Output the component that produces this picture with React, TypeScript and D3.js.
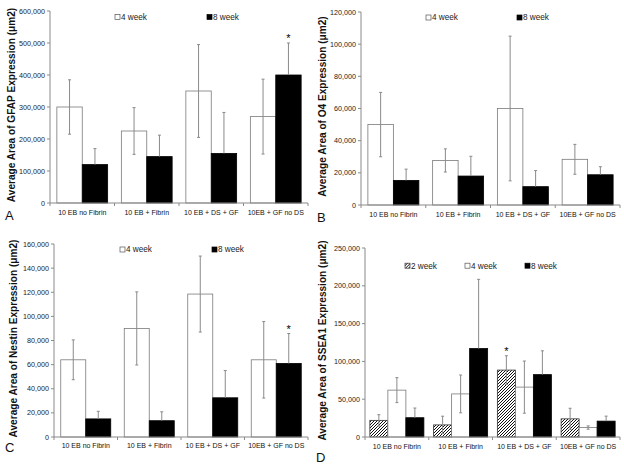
import React from 'react';
import * as d3 from 'd3';

const categories = ['10 EB no Fibrin', '10 EB + Fibrin', '10 EB + DS + GF', '10EB + GF no DS'];

// Panel A: GFAP
const gfap4wk = [300000, 225000, 350000, 270000];
const gfap4wkErr = [85000, 73000, 145000, 117000];
const gfap8wk = [120000, 145000, 155000, 400000];
const gfap8wkErr = [50000, 67000, 128000, 100000];

// Panel B: O4
const o4w4 = [50000, 27700, 60000, 28400];
const o4w4Err = [20000, 7200, 45000, 9300];
const o4w8 = [15300, 18000, 11400, 18800];
const o4w8Err = [7000, 12300, 10000, 5000];

// Panel C: Nestin
const nestin4wk = [64000, 90000, 118500, 64000];
const nestin4wkErr = [16500, 30300, 31500, 31700];
const nestin8wk = [15000, 13500, 32500, 61000];
const nestin8wkErr = [6300, 7400, 22600, 24800];

// Panel D: SSEA1
const ssea2wk = [22000, 16000, 88500, 24000];
const ssea2wkErr = [7500, 11500, 19000, 14000];
const ssea4wk = [62000, 57000, 66000, 12500];
const ssea4wkErr = [16500, 25000, 34500, 2200];
const ssea8wk = [25500, 117000, 82500, 21000];
const ssea8wkErr = [12800, 91500, 31500, 6600];

const FONT = '"Liberation Sans", Arial, sans-serif';
const GREY = '#8a8a8a';

type Kind = 'hatch' | 'white' | 'black';
type Series = { name: string; kind: Kind; values: number[]; errors: number[] };

type PanelProps = {
  x0: number; x1: number; yTop: number; yZero: number;
  max: number; step: number;
  series: Series[];
  yLabel: string; labelX: number;
  letter: string; letterX: number; letterY: number;
  legendX: number[]; legendY: number;
  catLabelY: number;
  star?: { series: number; cat: number };
};

function fillFor(kind: Kind) {
  if (kind === 'black') return '#000';
  if (kind === 'hatch') return 'url(#hatch)';
  return '#fff';
}

function strokeFor(kind: Kind) {
  if (kind === 'black') return '#000';
  if (kind === 'hatch') return '#333';
  return '#7a7a7a';
}

function Panel(p: PanelProps) {
  const x = d3.scaleBand<string>().domain(categories).range([p.x0, p.x1]).padding(0);
  const inner = d3.scaleBand<string>()
    .domain(p.series.map(s => s.name))
    .range([0, x.bandwidth()])
    .paddingInner(0)
    .paddingOuter(0.27);
  const y = d3.scaleLinear().domain([0, p.max]).range([p.yZero, p.yTop]);
  const ticks = d3.range(0, p.max + p.step / 2, p.step);
  const fmt = d3.format(',');
  const bw = inner.bandwidth();
  const cap = 1.5;

  let star: React.ReactNode = null;
  if (p.star) {
    const s = p.series[p.star.series];
    const sx = (x(categories[p.star.cat]) as number) + (inner(s.name) as number) + bw / 2;
    const sy = y(s.values[p.star.cat] + s.errors[p.star.cat]);
    star = (
      <text x={sx} y={sy - 1} textAnchor="middle" fontSize={11} fill="#000">
        *
      </text>
    );
  }

  return (
    <g fontFamily={FONT}>
      {/* bars */}
      {p.series.map(s => (
        <g key={s.name}>
          {s.values.map((v, i) => (
            <rect
              key={i}
              x={(x(categories[i]) as number) + (inner(s.name) as number)}
              y={y(v)}
              width={bw}
              height={y(0) - y(v)}
              fill={fillFor(s.kind)}
              stroke={strokeFor(s.kind)}
              strokeWidth={0.8}
            />
          ))}
        </g>
      ))}
      {/* error bars */}
      {p.series.map(s => (
        <g key={s.name + '-err'} stroke={GREY} strokeWidth={1}>
          {s.values.map((v, i) => {
            const cx = (x(categories[i]) as number) + (inner(s.name) as number) + bw / 2;
            const hi = y(v + s.errors[i]);
            const lo = s.kind === 'black' ? y(v) : y(Math.max(0, v - s.errors[i]));
            return (
              <g key={i}>
                <line x1={cx} x2={cx} y1={hi} y2={lo} />
                <line x1={cx - cap} x2={cx + cap} y1={hi} y2={hi} />
                {s.kind !== 'black' && <line x1={cx - cap} x2={cx + cap} y1={lo} y2={lo} />}
              </g>
            );
          })}
        </g>
      ))}
      {/* y axis */}
      <line x1={p.x0} x2={p.x0} y1={p.yTop} y2={p.yZero} stroke={GREY} strokeWidth={1} />
      {ticks.map(t => (
        <g key={t}>
          <line x1={p.x0 - 3} x2={p.x0} y1={y(t)} y2={y(t)} stroke={GREY} strokeWidth={1} />
          <text x={p.x0 - 5} y={y(t)} dy="0.35em" textAnchor="end" fontSize={7.2} fill="#222">
            {fmt(t)}
          </text>
        </g>
      ))}
      {/* x axis */}
      <line x1={p.x0} x2={p.x1} y1={p.yZero} y2={p.yZero} stroke={GREY} strokeWidth={1} />
      {categories.map(c => (
        <g key={c}>
          <line x1={x(c) as number} x2={x(c) as number} y1={p.yZero} y2={p.yZero + 3} stroke={GREY} />
          <text
            x={(x(c) as number) + x.bandwidth() / 2}
            y={p.catLabelY}
            textAnchor="middle"
            fontSize={7}
            fill="#111"
          >
            {c}
          </text>
        </g>
      ))}
      <line x1={p.x1} x2={p.x1} y1={p.yZero} y2={p.yZero + 3} stroke={GREY} />
      {/* y label */}
      <text
        transform={`translate(${p.labelX},${(p.yTop + p.yZero) / 2 - 2}) rotate(-90)`}
        textAnchor="middle"
        dy="0.35em"
        fontSize={10.1}
        fontWeight="bold"
        fill="#111"
      >
        {p.yLabel}
      </text>
      {/* legend */}
      {p.series.map((s, i) => (
        <g key={s.name + '-leg'} transform={`translate(${p.legendX[i]},${p.legendY})`}>
          <rect
            x={0}
            y={-2.5}
            width={5}
            height={5}
            fill={fillFor(s.kind)}
            stroke={s.kind === 'white' ? '#555' : strokeFor(s.kind)}
            strokeWidth={0.7}
          />
          <text x={6} y={0} dy="0.35em" fontSize={8.2} fill="#222">
            {s.name}
          </text>
        </g>
      ))}
      {star}
      {/* panel letter */}
      <text x={p.letterX} y={p.letterY} fontSize={13} fill="#111">
        {p.letter}
      </text>
    </g>
  );
}

export default function App() {
  return (
    <svg
      width={624}
      height={464}
      style={{ position: 'absolute', left: 0, top: 0, background: '#fff' }}
    >
      <defs>
        <pattern id="hatch" patternUnits="userSpaceOnUse" width={3} height={3}>
          <rect width={3} height={3} fill="#fff" />
          <path d="M-1,1 L1,-1 M0,3 L3,0 M2,4 L4,2" stroke="#111" strokeWidth={1} />
        </pattern>
      </defs>
      <Panel
        x0={50} x1={308} yTop={11} yZero={203} max={600000} step={100000}
        series={[
          { name: '4 week', kind: 'white', values: gfap4wk, errors: gfap4wkErr },
          { name: '8 week', kind: 'black', values: gfap8wk, errors: gfap8wkErr },
        ]}
        yLabel="Average Area of GFAP Expression (μm2)" labelX={11}
        letter="A" letterX={5} letterY={220}
        legendX={[115, 207]} legendY={17}
        catLabelY={215}
        star={{ series: 1, cat: 3 }}
      />
      <Panel
        x0={361} x1={620} yTop={12} yZero={205} max={120000} step={20000}
        series={[
          { name: '4 week', kind: 'white', values: o4w4, errors: o4w4Err },
          { name: '8 week', kind: 'black', values: o4w8, errors: o4w8Err },
        ]}
        yLabel="Average Area of O4 Expression (μm2)" labelX={322}
        letter="B" letterX={317} letterY={222}
        legendX={[426, 517]} legendY={17.5}
        catLabelY={217}
      />
      <Panel
        x0={54} x1={308} yTop={244} yZero={437} max={160000} step={20000}
        series={[
          { name: '4 week', kind: 'white', values: nestin4wk, errors: nestin4wkErr },
          { name: '8 week', kind: 'black', values: nestin8wk, errors: nestin8wkErr },
        ]}
        yLabel="Average Area of Nestin Expression (μm2)" labelX={13}
        letter="C" letterX={5} letterY={452}
        legendX={[120, 212]} legendY={249.5}
        catLabelY={448}
        star={{ series: 1, cat: 3 }}
      />
      <Panel
        x0={365} x1={620} yTop={248} yZero={437} max={250000} step={50000}
        series={[
          { name: '2 week', kind: 'hatch', values: ssea2wk, errors: ssea2wkErr },
          { name: '4 week', kind: 'white', values: ssea4wk, errors: ssea4wkErr },
          { name: '8 week', kind: 'black', values: ssea8wk, errors: ssea8wkErr },
        ]}
        yLabel="Average Area of SSEA1 Expression (μm2)" labelX={322}
        letter="D" letterX={316} letterY={462}
        legendX={[405, 465, 525]} legendY={265.7}
        catLabelY={448.5}
        star={{ series: 0, cat: 2 }}
      />
    </svg>
  );
}
